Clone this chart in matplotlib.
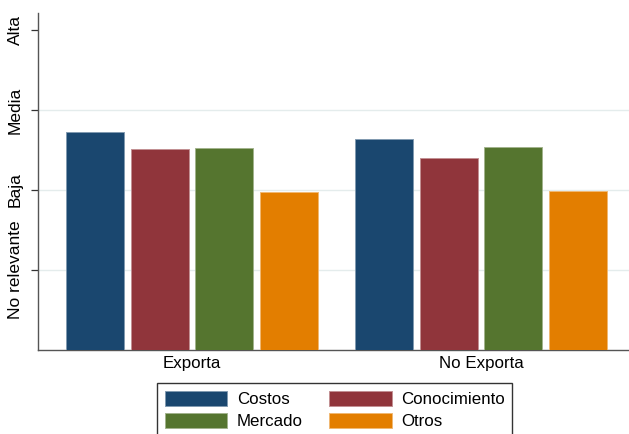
import matplotlib
matplotlib.use('Agg')
import matplotlib.pyplot as plt
import matplotlib.colors as mcolors
import numpy as np

# ---- data ----
groups = ['Exporta', 'No Exporta']
series = ['Costos', 'Conocimiento', 'Mercado', 'Otros']
costos = [2.72, 2.64]
conocimiento = [2.51, 2.40]
mercado = [2.53, 2.54]
otros = [1.97, 1.99]
ytick_values = [1, 2, 3, 4]
ytick_labels = ['No relevante', 'Baja', 'Media', 'Alta']

colors = ['#1a476f', '#90353b', '#55752f', '#e37e00']

plt.rcParams['font.family'] = ['Liberation Sans', 'DejaVu Sans']
plt.rcParams['font.size'] = 12

W, H = 629, 434
fig = plt.figure(figsize=(W / 100, H / 100), dpi=100)
ax = fig.add_axes([38 / W, 1 - 350 / H, 1 - 38 / W, (350 - 13) / H])

x = np.arange(len(groups))
values = [costos, conocimiento, mercado, otros]
step = 0.223
width = 0.2
for i, (name, vals, c) in enumerate(zip(series, values, colors)):
    rgb = np.array(mcolors.to_rgb(c))
    edge = tuple(rgb * 0.55 + 0.45)
    ax.bar(x + (i - 1.5) * step, vals, width, color=c, edgecolor=edge,
           linewidth=0.7, label=name, zorder=3)

ax.set_xlim(-0.533, 1.512)
ax.set_ylim(0, 4.2125)

for v in ytick_values[:-1]:
    ax.axhline(v, color='#e4ecec', linewidth=1.0, zorder=1)

ax.set_yticks(ytick_values)
ax.set_yticklabels(ytick_labels, rotation=90, va='center')
ax.tick_params(axis='y', length=5, width=0.9, color='#333333', pad=6, labelsize=12.5)
ax.set_xticks(x)
ax.set_xticklabels(groups)
ax.tick_params(axis='x', length=0, pad=4, labelsize=12.2)

for s in ['top', 'right']:
    ax.spines[s].set_visible(False)
for s in ['left', 'bottom']:
    ax.spines[s].set_color('#555555')
    ax.spines[s].set_linewidth(1.0)

handles, labels = ax.get_legend_handles_labels()
order = [0, 2, 1, 3]  # row-major fill: Costos, Conocimiento / Mercado, Otros
handles = [handles[k] for k in order]
labels = [labels[k] for k in order]
leg = fig.legend(handles, labels, ncol=2, loc='upper left',
                 bbox_to_anchor=(157 / W, 1 - 383 / H),
                 frameon=True, fancybox=False, edgecolor='black',
                 handlelength=3.7, handleheight=1.0, handletextpad=0.55,
                 columnspacing=1.55, borderpad=0.45, labelspacing=0.35,
                 borderaxespad=0, fontsize=12.2)
leg.get_frame().set_linewidth(1.0)

fig.savefig('out.png', dpi=100)
